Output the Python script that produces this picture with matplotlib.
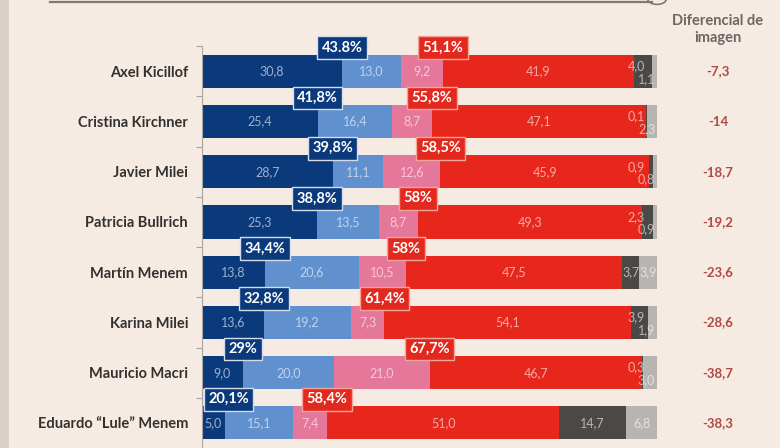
import matplotlib.pyplot as plt
from matplotlib.patches import Rectangle, Circle
from matplotlib.lines import Line2D
import numpy as np

# image survey: very positive / somewhat positive / somewhat negative / very negative / ns / nc
names = ["Axel Kicillof", "Cristina Kirchner", "Javier Milei", "Patricia Bullrich",
         "Martín Menem", "Karina Milei", "Mauricio Macri", "Eduardo \u201cLule\u201d Menem"]
muy_pos = [30.8, 25.4, 28.7, 25.3, 13.8, 13.6, 9.0, 5.0]
algo_pos = [13.0, 16.4, 11.1, 13.5, 20.6, 19.2, 20.0, 15.1]
algo_neg = [9.2, 8.7, 12.6, 8.7, 10.5, 7.3, 21.0, 7.4]
muy_neg = [41.9, 47.1, 45.9, 49.3, 47.5, 54.1, 46.7, 51.0]
ns = [4.0, 0.1, 0.9, 2.3, 3.7, 3.9, 0.3, 14.7]
nc = [1.1, 2.3, 0.8, 0.9, 3.9, 1.9, 3.0, 6.8]

pos_txt = ["43.8%", "41,8%", "39,8%", "38,8%", "34,4%", "32,8%", "29%", "20,1%"]
neg_txt = ["51,1%", "55,8%", "58,5%", "58%", "58%", "61,4%", "67,7%", "58,4%"]
dif_txt = ["-7,3", "-14", "-18,7", "-19,2", "-23,6", "-28,6", "-38,7", "-38,3"]

bg = "#f6ebe3"
colors = ["#0b3a7c", "#6190cf", "#e4779a", "#e8271c", "#4a4947", "#b8b4b1"]
FONT = ["Lato", "DejaVu Sans"]

fig = plt.figure(figsize=(7.8, 4.48), dpi=100, facecolor=bg)
ax = fig.add_axes([202 / 780, 0, 455 / 780, 1])
ax.patch.set_alpha(0)

y = np.arange(len(names))
series = [muy_pos, algo_pos, algo_neg, muy_neg, ns, nc]
left = np.zeros(len(names))
for vals, col in zip(series, colors):
    ax.barh(y, vals, left=left, height=0.66, color=col, linewidth=0)
    left += np.array(vals)

def fmt(v):
    return f"{v:.1f}".replace(".", ",")

lbl = dict(fontsize=9, color="white", alpha=0.6, family=FONT)

# labels inside the segments
for i in range(len(names)):
    start = 0
    for vals in series[:4]:
        v = vals[i]
        ax.text(start + v / 2, i, fmt(v), ha="center", va="center", **lbl)
        start += v
    d, l = ns[i], nc[i]
    if min(d, l) < 2.5:
        ax.text(97.3, i - 0.1, fmt(d), ha="right", va="center", **lbl)
        ax.text(99.6, i + 0.15, fmt(l), ha="right", va="center", **lbl)
    else:
        ax.text(start + d / 2, i, fmt(d), ha="center", va="center", **lbl)
        ax.text(start + d + l / 2, i, fmt(l), ha="center", va="center", **lbl)

    # summary boxes
    ax.text(max(muy_pos[i], 5.8), i - 0.47, pos_txt[i], ha="center", va="center",
            fontsize=10.5, fontweight="bold", color="white", family=FONT,
            bbox=dict(boxstyle="square,pad=0.3", fc=colors[0], ec="#d5dbe8", lw=1))
    ax.text(muy_pos[i] + algo_pos[i] + algo_neg[i], i - 0.47, neg_txt[i], ha="center",
            va="center", fontsize=10.5, fontweight="bold", color="white", family=FONT,
            bbox=dict(boxstyle="square,pad=0.3", fc="#e3291d", ec="#f2a49b", lw=1))

    # image differential column
    ax.text(113.4, i, dif_txt[i], ha="center", va="center", fontsize=9.5,
            fontweight="bold", color="#b04a42", family=FONT, clip_on=False)

ax.text(113.4, -0.83, "Diferencial de\nimagen", ha="center", va="center", fontsize=10.5,
        fontweight="bold", color="#6a6665", family=FONT, linespacing=1.3, clip_on=False)

ax.set_xlim(0, 100)
ax.set_ylim(7.31, -1.42)
ax.set_xticks([])
ax.set_yticks(y)
ax.set_yticklabels(names, fontsize=10.5, fontweight="bold", color="#333130", family=FONT)
ax.tick_params(axis="y", which="major", length=0, pad=10)
ax.set_yticks(np.arange(-0.5, len(names), 1), minor=True)
ax.tick_params(axis="y", which="minor", length=4, color="#a9a5a2", width=0.8)
for s in ["top", "right", "bottom"]:
    ax.spines[s].set_visible(False)
ax.spines["left"].set_bounds(-0.5, 7.5)
ax.spines["left"].set_color("#a9a5a2")
ax.spines["left"].set_linewidth(0.8)

# screen frame bits: top rule with knob, grey left edge
fig.add_artist(Line2D([50 / 780, 652 / 780], [446 / 448, 446 / 448], color="#7d7a78", lw=1.6))
fig.add_artist(Circle((657 / 780, 449 / 448), 0.012, transform=fig.transFigure,
                      fc="none", ec="#7d7a78", lw=1.2))
fig.add_artist(Rectangle((0, 0), 9 / 780, 1, transform=fig.transFigure,
                         fc="#d9d1cc", ec="none"))

fig.savefig("out.png", dpi=100, facecolor=bg)
